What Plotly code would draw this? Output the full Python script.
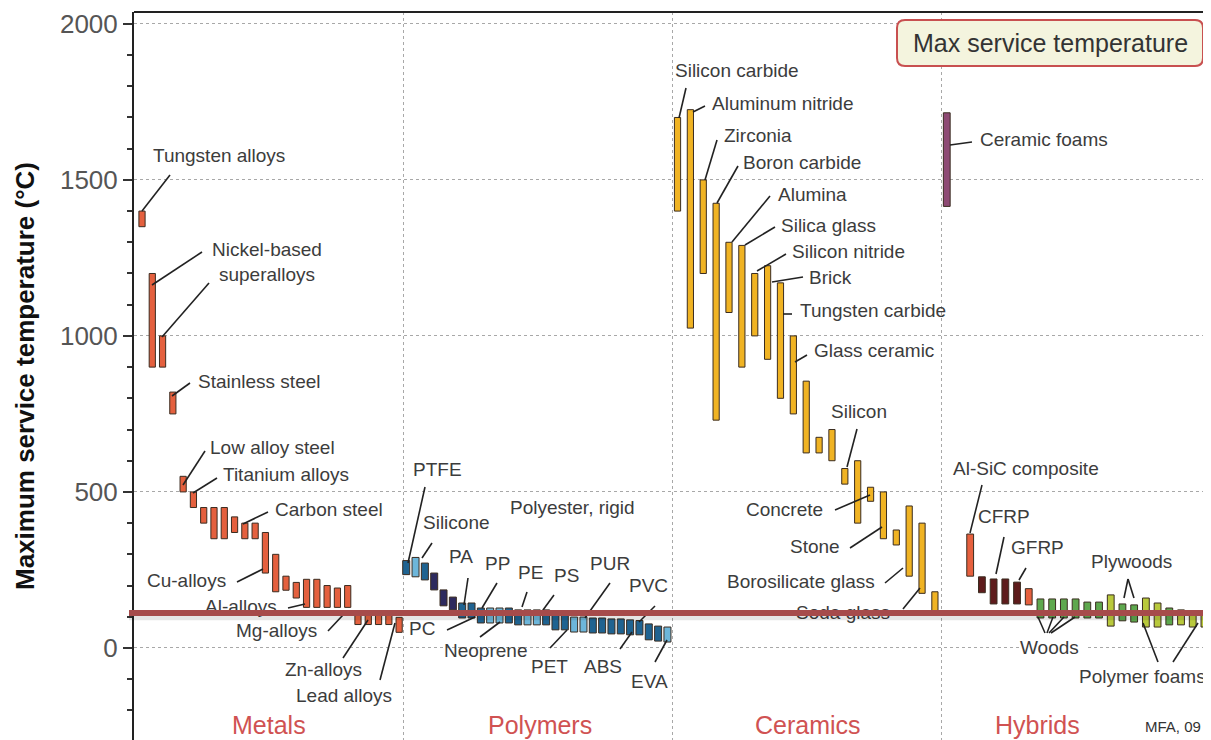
import plotly.graph_objects as go

# ---------------- data ----------------
group_names = ["Metals", "Polymers", "Ceramics", "Hybrids"]

metal_low = [1350, 900, 900, 750, 500, 450, 400, 350, 350, 370, 350, 350, 240,
             180, 185, 160, 130, 130, 130, 130, 130, 75, 75, 75, 75, 50]
metal_high = [1400, 1200, 1000, 820, 550, 500, 450, 450, 450, 420, 400, 400, 370,
              300, 230, 210, 220, 220, 200, 192, 200, 120, 120, 120, 120, 98]

polymer_low = [235, 228, 218, 186, 135, 122, 96, 96, 80, 80, 80, 80, 74, 74, 74,
               74, 58, 58, 51, 51, 48, 48, 45, 45, 42, 42, 26, 22, 19]
polymer_high = [280, 290, 272, 240, 186, 163, 144, 144, 128, 128, 128, 128, 122,
                122, 122, 122, 106, 106, 99, 99, 96, 96, 93, 93, 90, 88, 77, 70, 67]
polymer_kind = ["d", "l", "d", "n", "n", "n", "d", "d", "d", "l", "l", "d", "d",
                "l", "l", "d", "d", "d", "l", "l", "d", "d", "d", "d", "d", "d",
                "d", "d", "l"]

ceramic_low = [1400, 1025, 1200, 730, 1075, 900, 1000, 925, 800, 750, 625, 625,
               600, 525, 400, 470, 350, 330, 230, 175, 110]
ceramic_high = [1700, 1725, 1500, 1425, 1300, 1290, 1200, 1225, 1170, 1000, 855,
                675, 700, 575, 600, 515, 500, 378, 455, 400, 180]

hybrid_low = [1415, 230, 177, 141, 141, 141, 138, 96, 96, 96, 96, 96, 96, 70,
              87, 83, 67, 67, 74, 74, 67, 67]
hybrid_high = [1715, 365, 228, 221, 221, 211, 190, 157, 157, 157, 157, 147, 147,
               170, 141, 138, 160, 144, 128, 122, 115, 115]
hybrid_kind = ["foam", "alsic", "frp", "frp", "frp", "frp", "alsic", "wood",
               "wood", "wood", "wood", "wood", "wood", "pfoam", "wood", "wood",
               "pfoam", "pfoam", "wood", "pfoam", "pfoam", "pfoam"]

threshold = 112  # horizontal reference line (°C)

y_ticks = [0, 500, 1000, 1500, 2000]

# labels: (text, x_px, y_px, anchor, leader segments in px) -- layout positions
labels = [
    ("Tungsten alloys", 155, 157, "l", [(170, 175, 142, 211)]),
    ("Nickel-based<br>superalloys", 267, 264, "c", [(202, 252, 152, 285), (209, 283, 162, 337)]),
    ("Stainless steel", 200, 383, "l", [(190, 383, 172, 396)]),
    ("Low alloy steel", 212, 449, "l", [(205, 451, 183, 485)]),
    ("Titanium alloys", 225, 476, "l", [(217, 478, 193, 493)]),
    ("Carbon steel", 277, 511, "l", [(268, 512, 243, 524)]),
    ("Cu-alloys", 149, 582, "l", [(237, 582, 263, 569)]),
    ("Al-alloys", 207, 608, "l", [(288, 608, 305, 604)]),
    ("Mg-alloys", 238, 632, "l", [(328, 631, 343, 615)]),
    ("Zn-alloys", 287, 671, "l", [(343, 658, 368, 620)]),
    ("Lead alloys", 298, 697, "l", [(380, 680, 395, 623)]),
    ("PTFE", 415, 471, "l", [(425, 487, 408, 563)]),
    ("Silicone", 425, 524, "l", [(432, 543, 422, 558)]),
    ("Polyester, rigid", 512, 509, "l", []),
    ("PA", 451, 558, "l", [(468, 578, 464, 605)]),
    ("PP", 487, 565, "l", [(497, 583, 482, 608)]),
    ("PE", 520, 574, "l", [(527, 592, 522, 607)]),
    ("PS", 556, 577, "l", [(554, 595, 543, 610)]),
    ("PUR", 592, 565, "l", [(610, 583, 585, 618)]),
    ("PVC", 631, 587, "l", [(655, 606, 639, 622)]),
    ("PC", 411, 630, "l", [(447, 630, 475, 617)]),
    ("Neoprene", 446, 652, "l", [(480, 637, 500, 622)]),
    ("PET", 533, 668, "l", [(550, 648, 567, 630)]),
    ("ABS", 586, 668, "l", [(620, 649, 632, 632)]),
    ("EVA", 633, 683, "l", [(655, 662, 667, 640)]),
    ("Silicon carbide", 677, 72, "l", [(686, 88, 679, 118)]),
    ("Aluminum nitride", 714, 105, "l", [(705, 106, 693, 112)]),
    ("Zirconia", 726, 137, "l", [(717, 140, 705, 180)]),
    ("Boron carbide", 745, 164, "l", [(738, 166, 717, 203)]),
    ("Alumina", 780, 196, "l", [(770, 196, 732, 242)]),
    ("Silica glass", 783, 227, "l", [(775, 227, 745, 245)]),
    ("Silicon nitride", 794, 253, "l", [(786, 254, 757, 271)]),
    ("Brick", 811, 279, "l", [(803, 277, 772, 282)]),
    ("Tungsten carbide", 802, 312, "l", [(792, 314, 783, 314)]),
    ("Glass ceramic", 816, 352, "l", [(807, 355, 795, 362)]),
    ("Silicon", 833, 413, "l", [(857, 429, 847, 467)]),
    ("Concrete", 748, 511, "l", [(835, 510, 870, 495)]),
    ("Stone", 792, 548, "l", [(850, 548, 882, 527)]),
    ("Borosilicate glass", 729, 583, "l", [(885, 583, 903, 568)]),
    ("Soda glass", 798, 614, "l", [(903, 609, 920, 588)]),
    ("Ceramic foams", 982, 141, "l", [(972, 142, 950, 145)]),
    ("Al-SiC composite", 955, 470, "l", [(982, 485, 970, 533)]),
    ("CFRP", 980, 518, "l", [(1004, 537, 996, 574)]),
    ("GFRP", 1013, 549, "l", [(1026, 568, 1019, 580)]),
    ("Plywoods", 1093, 563, "l", [(1124, 598, 1128, 579), (1128, 579, 1134, 598)]),
    ("Polymer foams", 1081, 678, "l", [(1158, 662, 1143, 623), (1173, 662, 1198, 623)]),
    ("Woods", 1022, 649, "l", [(1045, 633, 1038, 617), (1047, 633, 1053, 617),
                               (1049, 633, 1064, 617), (1051, 633, 1075, 617)]),
]

# ---------------- layout geometry ----------------
# The page body adds an 8px margin, so the figure is 8px smaller and every
# screen position is shifted by OFF.
OFF = 8
SCREEN_W, SCREEN_H = 1211, 740
W, H = SCREEN_W - OFF, SCREEN_H - OFF
ML, MT = 134 - OFF, 12 - OFF
PLOT_W = W - ML
PLOT_H = H - MT
Y_MIN, Y_MAX = -295, 2038
UNIT_X = PLOT_W / 4.0
UNIT_Y = PLOT_H / (Y_MAX - Y_MIN)


def PX(px):
    return (px - OFF - ML) / UNIT_X


def PY(py):
    return Y_MAX - (py - OFF - MT) / UNIT_Y


def paper_x(px):
    return (px - OFF - ML) / PLOT_W


def paper_y(py):
    return (H - (py - OFF)) / PLOT_H


# slot layout per group: (start offset, step) in group units
metal_x = [0 + 0.0297 + i * 0.0382 for i in range(len(metal_low))]
polymer_x = [1 + 0.011 + i * 0.03465 for i in range(len(polymer_low))]
ceramic_x = [2 + 0.0186 + i * 0.0478 for i in range(len(ceramic_low))]
hyb_slots = [0] + list(range(2, 2 + len(hybrid_low) - 1))
hybrid_x = [3 + 0.0186 + s * 0.0435 for s in hyb_slots]

BAR_W = 6.2 / UNIT_X
POLY_W = 7.0 / UNIT_X
OUTLINE = dict(color="#3a2c20", width=1)

poly_col = {"d": "#1f6391", "l": "#6db6da", "n": "#2d2a5e"}
hyb_col = {"foam": "#8e4a74", "alsic": "#e6603e", "frp": "#5e1c1c",
           "wood": "#5ea84e", "pfoam": "#b9c93c"}

fig = go.Figure()


def add_bars(xs, lo, hi, colors, width):
    fig.add_trace(go.Bar(
        x=xs, y=[h - l for l, h in zip(lo, hi)], base=lo,
        width=width, marker=dict(color=colors, line=OUTLINE),
        showlegend=False, hoverinfo="skip"))


add_bars(metal_x, metal_low, metal_high, "#e4603e", BAR_W)
add_bars(polymer_x, polymer_low, polymer_high, [poly_col[k] for k in polymer_kind], POLY_W)
add_bars(ceramic_x, ceramic_low, ceramic_high, "#f0b323", BAR_W)
add_bars(hybrid_x, hybrid_low, hybrid_high, [hyb_col[k] for k in hybrid_kind], 6.8 / UNIT_X)

# label texts as a text trace (so the reference line can sit above them)
lx, ly, lt, lp = [], [], [], []
shapes = []
for text, px, py, anc, segs in labels:
    lx.append(PX(px - 2) if anc == "l" else PX(px))
    ly.append(PY(py))
    lt.append(text)
    lp.append("middle right" if anc == "l" else "middle center")
    for (x0, y0, x1, y1) in segs:
        shapes.append(dict(type="line", xref="x", yref="y",
                           x0=PX(x0), y0=PY(y0), x1=PX(x1), y1=PY(y1),
                           line=dict(color="#222222", width=1.6), layer="above"))

# white patch behind "Woods" (cuts the dotted gridline)
shapes.append(dict(type="rect", xref="x", yref="y", x0=PX(1019), x1=PX(1086),
                   y0=PY(660), y1=PY(638), fillcolor="white", line=dict(width=0),
                   layer="between"))

fig.add_trace(go.Scatter(
    x=lx, y=ly, text=lt, mode="text", textposition=lp,
    textfont=dict(family="Liberation Sans", size=19, color="#3c3c3c"),
    showlegend=False, hoverinfo="skip", cliponaxis=False))

# reference line with soft shadow
shapes.append(dict(type="line", xref="paper", yref="y", x0=paper_x(129), x1=1,
                   y0=threshold - 9, y1=threshold - 9,
                   line=dict(color="rgba(0,0,0,0.10)", width=9), layer="above"))
shapes.append(dict(type="line", xref="paper", yref="y", x0=paper_x(129), x1=1,
                   y0=threshold, y1=threshold,
                   line=dict(color="#a64b4b", width=6), layer="above"))

# top frame line
shapes.append(dict(type="line", xref="paper", yref="paper", x0=0, x1=1, y0=1, y1=1,
                   line=dict(color="#222222", width=2), layer="above"))

# rounded title box
bx0, bx1 = paper_x(897), paper_x(1203)
by0, by1 = paper_y(66), paper_y(20)
rx, ry = 8 / PLOT_W, 8 / PLOT_H
path = (f"M {bx0+rx},{by1} L {bx1-rx},{by1} Q {bx1},{by1} {bx1},{by1-ry} "
        f"L {bx1},{by0+ry} Q {bx1},{by0} {bx1-rx},{by0} "
        f"L {bx0+rx},{by0} Q {bx0},{by0} {bx0},{by0+ry} "
        f"L {bx0},{by1-ry} Q {bx0},{by1} {bx0+rx},{by1} Z")
shapes.append(dict(type="path", xref="paper", yref="paper", path=path,
                   fillcolor="#f4f4de", line=dict(color="#c85050", width=2),
                   layer="above"))

annotations = [
    dict(text="Max service temperature", xref="paper", yref="paper",
         x=paper_x(1050), y=paper_y(43), xanchor="center", yanchor="middle",
         showarrow=False,
         font=dict(family="Liberation Sans", size=25, color="#333333")),
    dict(text="MFA, 09", xref="paper", yref="paper", x=paper_x(1173), y=paper_y(726),
         xanchor="center", yanchor="middle", showarrow=False,
         font=dict(family="Liberation Sans", size=15, color="#333333")),
]
group_centers = [269, 540, 808, 1037]
for name, cx in zip(group_names, group_centers):
    annotations.append(dict(text=name, xref="paper", yref="paper",
                            x=paper_x(cx), y=paper_y(725), xanchor="center",
                            yanchor="middle", showarrow=False,
                            font=dict(family="Liberation Sans", size=25, color="#d05252")))

fig.update_layout(
    width=W, height=H,
    margin=dict(l=ML, r=0, t=MT, b=0, autoexpand=False),
    paper_bgcolor="white", plot_bgcolor="white",
    barmode="overlay",
    shapes=shapes, annotations=annotations,
    font=dict(family="Liberation Sans"),
    xaxis=dict(range=[0, 4], tickvals=[1, 2, 3], showticklabels=False, ticks="",
               showgrid=True, gridcolor="#a8a8a8", griddash="dot", gridwidth=1.2,
               zeroline=False, showline=False, fixedrange=True, automargin=False),
    yaxis=dict(range=[Y_MIN, Y_MAX], tickvals=y_ticks, ticks="outside", ticklen=9,
               tickwidth=1.5, tickcolor="#333333", automargin=False,
               tickfont=dict(family="Liberation Sans", size=26, color="#555555"),
               showgrid=True, gridcolor="#a8a8a8", griddash="dot", gridwidth=1.2,
               zeroline=False, showline=True, linecolor="#222222", linewidth=2,
               minor=dict(dtick=100, tick0=0, ticks="outside", ticklen=5,
                          tickcolor="#333333", showgrid=False),
               title=dict(text="Maximum service temperature (°C)", standoff=18,
                          font=dict(family="Liberation Sans", size=26, color="#111111",
                                    weight="bold")),
               fixedrange=True),
)

fig.write_html("out.html")
